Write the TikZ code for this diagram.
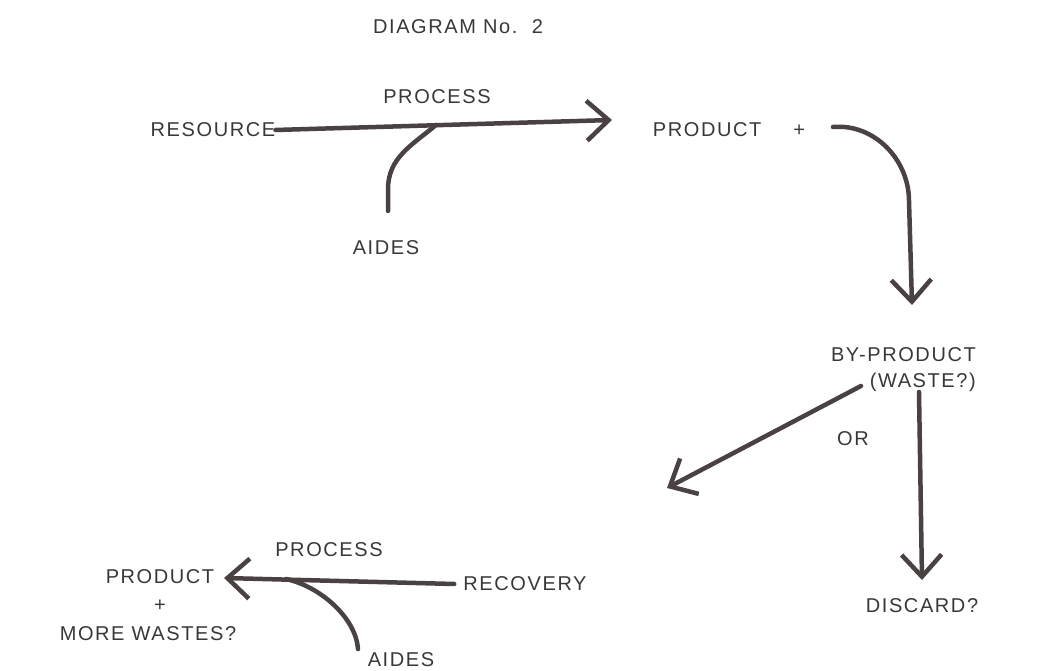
\documentclass[tikz,border=0pt]{standalone}
\usepackage{fontspec}
\setmainfont{Liberation Sans}[LetterSpace=8]
\usetikzlibrary{arrows.meta}
\definecolor{matita}{RGB}{74,66,66}
\definecolor{testo}{RGB}{56,56,56}
\tikzset{
  etichetta/.style={text=testo, font=\fontsize{20}{28.5}\selectfont, inner sep=0pt},
  tratto/.style={draw=matita, line width=4.5pt, line cap=round},
  freccia/.style={tratto, -{Straight Barb[length=22pt,width=40pt]}}
}
\begin{document}
\begin{tikzpicture}[x=1pt,y=1pt]
    \useasboundingbox (0,0) rectangle (1046,671);

    % Testi del diagramma
    \node[etichetta] (titolo) at (458,644) {DIAGRAM No.~~2};
    \node[etichetta] (proc1) at (437,574) {PROCESS};
    \node[etichetta] (risorsa) at (213,541) {RESOURCE};
    \node[etichetta] (prod1) at (729,541) {PRODUCT\hspace{1.6em}+};
    \node[etichetta] (aiuti1) at (386,423) {AIDES};
    \node[etichetta, anchor=east] (sottoprod) at (976,316) {BY-PRODUCT};
    \node[etichetta, anchor=east] (scarto) at (976,289) {(WASTE?)};
    \node[etichetta] (oppure) at (853,232) {OR};
    \node[etichetta] (discarica) at (922,65) {DISCARD?};
    \node[etichetta] (proc2) at (329,121) {PROCESS};
    \node[etichetta] (prod2) at (160,94) {PRODUCT};
    \node[etichetta] (piu) at (160,65) {+};
    \node[etichetta] (altri) at (148,37) {MORE WASTES?};
    \node[etichetta] (recupero) at (525,87) {RECOVERY};
    \node[etichetta] (aiuti2) at (401,11) {AIDES};

    % Punti liberi delle frecce
    \coordinate (punta1) at (612,551);
    \coordinate (nodo1) at (436,546);
    \coordinate (piede1) at (388,460);
    \coordinate (inizio2) at (833,544);
    \coordinate (punta2) at (912,366);
    \coordinate (inizio3) at (861,285);
    \coordinate (punta3) at (667,183);
    \coordinate (inizio4) at (919,279);
    \coordinate (punta4) at (922,91);
    \coordinate (punta5) at (224,93);
    \coordinate (nodo2) at (286,92);
    \coordinate (piede2) at (358,22);

    % Prima trasformazione
    \draw[freccia] (risorsa.east) -- (punta1);
    \draw[tratto] (piede1) -- (388,482) to[out=90,in=220] (nodo1);

    % Sottoprodotto, recupero oppure discarica
    \draw[freccia] (inizio2) to[out=5,in=90] (909,470) -- (punta2);
    \draw[freccia] (inizio3) -- (punta3);
    \draw[freccia] (inizio4) -- (punta4);

    % Seconda trasformazione
    \draw[freccia] ([xshift=-9pt]recupero.west) -- (punta5);
    \draw[tratto] (nodo2) .. controls (322,84) and (356,52) .. (piede2);
\end{tikzpicture}
\end{document}
